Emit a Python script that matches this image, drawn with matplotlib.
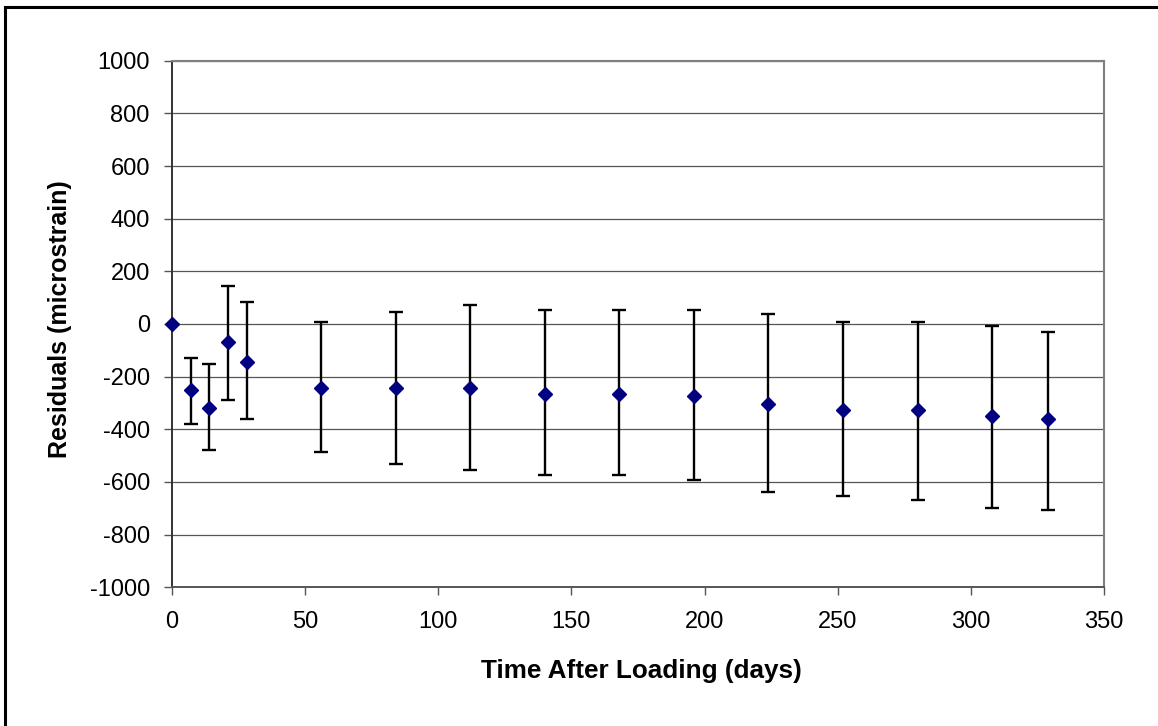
import matplotlib
matplotlib.use("Agg")
import matplotlib.pyplot as plt
from matplotlib.lines import Line2D
import numpy as np

plt.rcParams['font.family'] = ['Liberation Sans', 'DejaVu Sans']

days = [0, 7, 14, 21, 28, 56, 84, 112, 140, 168, 196, 224, 252, 280, 308, 329]
residuals = [0, -250, -318, -68, -143, -243, -243, -243, -266, -266, -272, -303, -325, -325, -348, -362]
upper = [0, -129, -151, 146, 84, 9, 47, 71, 53, 53, 53, 39, 9, 9, -6, -30]
lower = [0, -379, -477, -287, -362, -485, -530, -555, -575, -575, -592, -637, -652, -667, -698, -705]

x_ticks = [0, 50, 100, 150, 200, 250, 300, 350]
y_ticks = [-1000, -800, -600, -400, -200, 0, 200, 400, 600, 800, 1000]

W, H = 1158, 726
fig = plt.figure(figsize=(W / 100, H / 100), dpi=100)
ax = fig.add_axes([172 / W, 1 - 587.3 / H, (1104 - 172) / W, (587.3 - 60.7) / H])

res = np.array(residuals, dtype=float)
err_lo = res - np.array(lower, dtype=float)
err_hi = np.array(upper, dtype=float) - res

# error bars (skip the first point, which has none)
ax.errorbar(days[1:], res[1:], yerr=[err_lo[1:], err_hi[1:]], fmt='none',
            ecolor='black', elinewidth=1.7, capsize=5, capthick=1.7, zorder=3)
ax.plot(days, res, linestyle='none', marker='D', markersize=6.8,
        color='#000080', markeredgecolor='#000080', zorder=4, clip_on=False)

ax.set_xlim(0, 350)
ax.set_ylim(-1000, 1000)
ax.set_xticks(x_ticks)
ax.set_yticks(y_ticks)
ax.set_xticklabels([str(v) for v in x_ticks])
ax.set_yticklabels([str(v) for v in y_ticks])

for v in y_ticks[1:]:
    ax.axhline(v, color='#555555', linewidth=0.9, zorder=1)

ax.tick_params(axis='both', direction='out', length=6, width=1, color='#555555',
               labelsize=17, labelcolor='black')
ax.tick_params(axis='y', pad=10)
ax.tick_params(axis='x', pad=11)

ax.spines['left'].set_color('#333333')
ax.spines['left'].set_linewidth(1.4)
ax.spines['bottom'].set_color('#555555')
ax.spines['bottom'].set_linewidth(1.4)
ax.spines['top'].set_color('#808080')
ax.spines['top'].set_linewidth(1.5)
ax.spines['right'].set_color('#808080')
ax.spines['right'].set_linewidth(1.5)

fig.text(641 / W, 1 - 671 / H, 'Time After Loading (days)', ha='center', va='center',
         fontsize=18.8, fontweight='bold')
fig.text(60 / W, 1 - 319 / H, 'Residuals (microstrain)', ha='center', va='center',
         rotation=90, fontsize=18, fontweight='bold')

# outer chart border (top and left visible)
fig.add_artist(Line2D([5 / W, 1.0], [1 - 7 / H, 1 - 7 / H], transform=fig.transFigure,
                      color='black', linewidth=2.2))
fig.add_artist(Line2D([5 / W, 5 / W], [1 - 7 / H, 0.0], transform=fig.transFigure,
                      color='black', linewidth=2.2))

fig.savefig('out.png', dpi=100)
